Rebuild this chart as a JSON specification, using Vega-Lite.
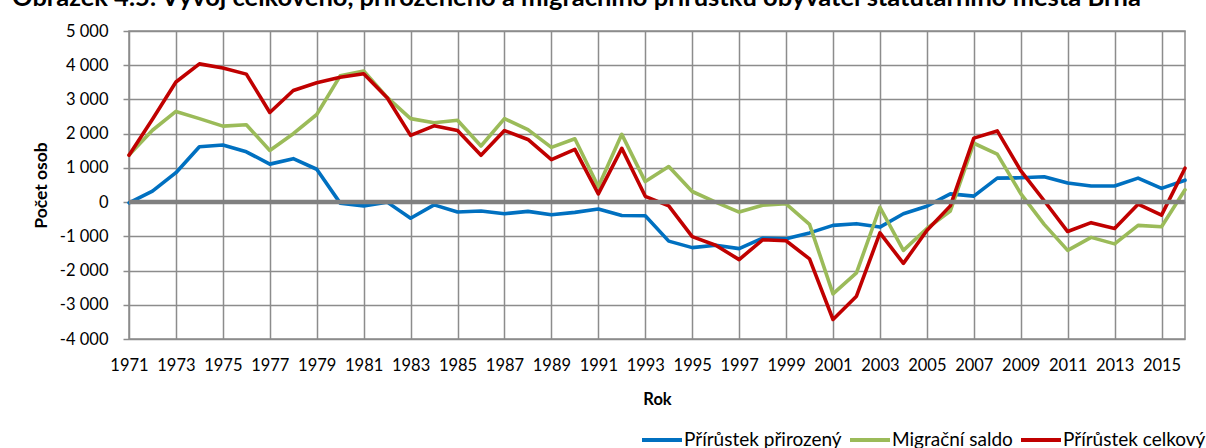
{
  "$schema": "https://vega.github.io/schema/vega-lite/v6.json",
  "width": 1056,
  "height": 308,
  "autosize": {"type": "none"},
  "padding": {"left": 129, "top": 31, "right": 21, "bottom": 109},
  "background": "#ffffff",
  "title": {
    "text": "Obrázek 4.5: Vývoj celkového, přirozeného a migračního přírůstku obyvatel statutárního města Brna",
    "anchor": "start",
    "frame": "group",
    "dx": -117,
    "offset": 12,
    "font": "Lato",
    "fontSize": 25.5,
    "fontWeight": "bold",
    "color": "#000000"
  },
  "data": {
    "values": [
      {"rok": 1971, "rada": "Přírůstek přirozený", "pocet": -20},
      {"rok": 1972, "rada": "Přírůstek přirozený", "pocet": 320},
      {"rok": 1973, "rada": "Přírůstek přirozený", "pocet": 860},
      {"rok": 1974, "rada": "Přírůstek přirozený", "pocet": 1620},
      {"rok": 1975, "rada": "Přírůstek přirozený", "pocet": 1670},
      {"rok": 1976, "rada": "Přírůstek přirozený", "pocet": 1470},
      {"rok": 1977, "rada": "Přírůstek přirozený", "pocet": 1110},
      {"rok": 1978, "rada": "Přírůstek přirozený", "pocet": 1270},
      {"rok": 1979, "rada": "Přírůstek přirozený", "pocet": 960},
      {"rok": 1980, "rada": "Přírůstek přirozený", "pocet": -30},
      {"rok": 1981, "rada": "Přírůstek přirozený", "pocet": -110},
      {"rok": 1982, "rada": "Přírůstek přirozený", "pocet": 0},
      {"rok": 1983, "rada": "Přírůstek přirozený", "pocet": -470},
      {"rok": 1984, "rada": "Přírůstek přirozený", "pocet": -80},
      {"rok": 1985, "rada": "Přírůstek přirozený", "pocet": -290},
      {"rok": 1986, "rada": "Přírůstek přirozený", "pocet": -260},
      {"rok": 1987, "rada": "Přírůstek přirozený", "pocet": -340},
      {"rok": 1988, "rada": "Přírůstek přirozený", "pocet": -270},
      {"rok": 1989, "rada": "Přírůstek přirozený", "pocet": -370},
      {"rok": 1990, "rada": "Přírůstek přirozený", "pocet": -300},
      {"rok": 1991, "rada": "Přírůstek přirozený", "pocet": -200},
      {"rok": 1992, "rada": "Přírůstek přirozený", "pocet": -390},
      {"rok": 1993, "rada": "Přírůstek přirozený", "pocet": -400},
      {"rok": 1994, "rada": "Přírůstek přirozený", "pocet": -1140},
      {"rok": 1995, "rada": "Přírůstek přirozený", "pocet": -1330},
      {"rok": 1996, "rada": "Přírůstek přirozený", "pocet": -1260},
      {"rok": 1997, "rada": "Přírůstek přirozený", "pocet": -1360},
      {"rok": 1998, "rada": "Přírůstek přirozený", "pocet": -1050},
      {"rok": 1999, "rada": "Přírůstek přirozený", "pocet": -1070},
      {"rok": 2000, "rada": "Přírůstek přirozený", "pocet": -900},
      {"rok": 2001, "rada": "Přírůstek přirozený", "pocet": -680},
      {"rok": 2002, "rada": "Přírůstek přirozený", "pocet": -630},
      {"rok": 2003, "rada": "Přírůstek přirozený", "pocet": -730},
      {"rok": 2004, "rada": "Přírůstek přirozený", "pocet": -340},
      {"rok": 2005, "rada": "Přírůstek přirozený", "pocet": -120},
      {"rok": 2006, "rada": "Přírůstek přirozený", "pocet": 240},
      {"rok": 2007, "rada": "Přírůstek přirozený", "pocet": 175},
      {"rok": 2008, "rada": "Přírůstek přirozený", "pocet": 700},
      {"rok": 2009, "rada": "Přírůstek přirozený", "pocet": 710},
      {"rok": 2010, "rada": "Přírůstek přirozený", "pocet": 740},
      {"rok": 2011, "rada": "Přírůstek přirozený", "pocet": 560},
      {"rok": 2012, "rada": "Přírůstek přirozený", "pocet": 470},
      {"rok": 2013, "rada": "Přírůstek přirozený", "pocet": 470},
      {"rok": 2014, "rada": "Přírůstek přirozený", "pocet": 700},
      {"rok": 2015, "rada": "Přírůstek přirozený", "pocet": 400},
      {"rok": 2016, "rada": "Přírůstek přirozený", "pocet": 640},
      {"rok": 1971, "rada": "Migrační saldo", "pocet": 1380},
      {"rok": 1972, "rada": "Migrační saldo", "pocet": 2100},
      {"rok": 1973, "rada": "Migrační saldo", "pocet": 2650},
      {"rok": 1974, "rada": "Migrační saldo", "pocet": 2440},
      {"rok": 1975, "rada": "Migrační saldo", "pocet": 2220},
      {"rok": 1976, "rada": "Migrační saldo", "pocet": 2260},
      {"rok": 1977, "rada": "Migrační saldo", "pocet": 1510},
      {"rok": 1978, "rada": "Migrační saldo", "pocet": 2000},
      {"rok": 1979, "rada": "Migrační saldo", "pocet": 2560},
      {"rok": 1980, "rada": "Migrační saldo", "pocet": 3690},
      {"rok": 1981, "rada": "Migrační saldo", "pocet": 3830},
      {"rok": 1982, "rada": "Migrační saldo", "pocet": 3060},
      {"rok": 1983, "rada": "Migrační saldo", "pocet": 2440},
      {"rok": 1984, "rada": "Migrační saldo", "pocet": 2320},
      {"rok": 1985, "rada": "Migrační saldo", "pocet": 2390},
      {"rok": 1986, "rada": "Migrační saldo", "pocet": 1640},
      {"rok": 1987, "rada": "Migrační saldo", "pocet": 2440},
      {"rok": 1988, "rada": "Migrační saldo", "pocet": 2120},
      {"rok": 1989, "rada": "Migrační saldo", "pocet": 1600},
      {"rok": 1990, "rada": "Migrační saldo", "pocet": 1850},
      {"rok": 1991, "rada": "Migrační saldo", "pocet": 450},
      {"rok": 1992, "rada": "Migrační saldo", "pocet": 1980},
      {"rok": 1993, "rada": "Migrační saldo", "pocet": 600},
      {"rok": 1994, "rada": "Migrační saldo", "pocet": 1040},
      {"rok": 1995, "rada": "Migrační saldo", "pocet": 310},
      {"rok": 1996, "rada": "Migrační saldo", "pocet": 0},
      {"rok": 1997, "rada": "Migrační saldo", "pocet": -290},
      {"rok": 1998, "rada": "Migrační saldo", "pocet": -90},
      {"rok": 1999, "rada": "Migrační saldo", "pocet": -50},
      {"rok": 2000, "rada": "Migrační saldo", "pocet": -650},
      {"rok": 2001, "rada": "Migrační saldo", "pocet": -2680},
      {"rok": 2002, "rada": "Migrační saldo", "pocet": -2070},
      {"rok": 2003, "rada": "Migrační saldo", "pocet": -150},
      {"rok": 2004, "rada": "Migrační saldo", "pocet": -1410},
      {"rok": 2005, "rada": "Migrační saldo", "pocet": -770},
      {"rok": 2006, "rada": "Migrační saldo", "pocet": -260},
      {"rok": 2007, "rada": "Migrační saldo", "pocet": 1720},
      {"rok": 2008, "rada": "Migrační saldo", "pocet": 1400},
      {"rok": 2009, "rada": "Migrační saldo", "pocet": 250},
      {"rok": 2010, "rada": "Migrační saldo", "pocet": -650},
      {"rok": 2011, "rada": "Migrační saldo", "pocet": -1410},
      {"rok": 2012, "rada": "Migrační saldo", "pocet": -1030},
      {"rok": 2013, "rada": "Migrační saldo", "pocet": -1220},
      {"rok": 2014, "rada": "Migrační saldo", "pocet": -680},
      {"rok": 2015, "rada": "Migrační saldo", "pocet": -720},
      {"rok": 2016, "rada": "Migrační saldo", "pocet": 360},
      {"rok": 1971, "rada": "Přírůstek celkový", "pocet": 1370},
      {"rok": 1972, "rada": "Přírůstek celkový", "pocet": 2420},
      {"rok": 1973, "rada": "Přírůstek celkový", "pocet": 3510},
      {"rok": 1974, "rada": "Přírůstek celkový", "pocet": 4040},
      {"rok": 1975, "rada": "Přírůstek celkový", "pocet": 3920},
      {"rok": 1976, "rada": "Přírůstek celkový", "pocet": 3740},
      {"rok": 1977, "rada": "Přírůstek celkový", "pocet": 2620},
      {"rok": 1978, "rada": "Přírůstek celkový", "pocet": 3260},
      {"rok": 1979, "rada": "Přírůstek celkový", "pocet": 3490},
      {"rok": 1980, "rada": "Přírůstek celkový", "pocet": 3650},
      {"rok": 1981, "rada": "Přírůstek celkový", "pocet": 3750},
      {"rok": 1982, "rada": "Přírůstek celkový", "pocet": 3050},
      {"rok": 1983, "rada": "Přírůstek celkový", "pocet": 1950},
      {"rok": 1984, "rada": "Přírůstek celkový", "pocet": 2230},
      {"rok": 1985, "rada": "Přírůstek celkový", "pocet": 2090},
      {"rok": 1986, "rada": "Přírůstek celkový", "pocet": 1370},
      {"rok": 1987, "rada": "Přírůstek celkový", "pocet": 2090},
      {"rok": 1988, "rada": "Přírůstek celkový", "pocet": 1830},
      {"rok": 1989, "rada": "Přírůstek celkový", "pocet": 1240},
      {"rok": 1990, "rada": "Přírůstek celkový", "pocet": 1540},
      {"rok": 1991, "rada": "Přírůstek celkový", "pocet": 240},
      {"rok": 1992, "rada": "Přírůstek celkový", "pocet": 1570},
      {"rok": 1993, "rada": "Přírůstek celkový", "pocet": 170},
      {"rok": 1994, "rada": "Přírůstek celkový", "pocet": -110},
      {"rok": 1995, "rada": "Přírůstek celkový", "pocet": -1010},
      {"rok": 1996, "rada": "Přírůstek celkový", "pocet": -1260},
      {"rok": 1997, "rada": "Přírůstek celkový", "pocet": -1680},
      {"rok": 1998, "rada": "Přírůstek celkový", "pocet": -1100},
      {"rok": 1999, "rada": "Přírůstek celkový", "pocet": -1130},
      {"rok": 2000, "rada": "Přírůstek celkový", "pocet": -1660},
      {"rok": 2001, "rada": "Přírůstek celkový", "pocet": -3430},
      {"rok": 2002, "rada": "Přírůstek celkový", "pocet": -2750},
      {"rok": 2003, "rada": "Přírůstek celkový", "pocet": -900},
      {"rok": 2004, "rada": "Přírůstek celkový", "pocet": -1790},
      {"rok": 2005, "rada": "Přírůstek celkový", "pocet": -830},
      {"rok": 2006, "rada": "Přírůstek celkový", "pocet": -110},
      {"rok": 2007, "rada": "Přírůstek celkový", "pocet": 1870},
      {"rok": 2008, "rada": "Přírůstek celkový", "pocet": 2080},
      {"rok": 2009, "rada": "Přírůstek celkový", "pocet": 920},
      {"rok": 2010, "rada": "Přírůstek celkový", "pocet": 40},
      {"rok": 2011, "rada": "Přírůstek celkový", "pocet": -860},
      {"rok": 2012, "rada": "Přírůstek celkový", "pocet": -600},
      {"rok": 2013, "rada": "Přírůstek celkový", "pocet": -770},
      {"rok": 2014, "rada": "Přírůstek celkový", "pocet": -60},
      {"rok": 2015, "rada": "Přírůstek celkový", "pocet": -380},
      {"rok": 2016, "rada": "Přírůstek celkový", "pocet": 990}
    ]
  },
  "layer": [
    {
      "mark": {"type": "line", "strokeWidth": 3.6, "strokeJoin": "round", "strokeCap": "round"},
      "encoding": {
        "x": {
          "field": "rok",
          "type": "quantitative",
          "scale": {"domain": [1971, 2016], "nice": false, "zero": false},
          "axis": {
            "values": [1971, 1973, 1975, 1977, 1979, 1981, 1983, 1985, 1987, 1989, 1991, 1993, 1995, 1997, 1999, 2001, 2003, 2005, 2007, 2009, 2011, 2013, 2015],
            "format": "d",
            "title": "Rok",
            "ticks": false,
            "tickSize": 0,
            "domain": false,
            "labelOverlap": false,
            "labelBound": false,
            "labelFlush": false,
            "labelPadding": 18,
            "titlePadding": 18
          }
        },
        "y": {
          "field": "pocet",
          "type": "quantitative",
          "scale": {"domain": [-4000, 5000], "nice": false, "zero": false},
          "axis": {
            "values": [-4000, -3000, -2000, -1000, 0, 1000, 2000, 3000, 4000, 5000],
            "labelExpr": "(datum.value < 0 ? '-' : '') + replace(format(abs(datum.value), ','), ',', ' ')",
            "title": "Počet osob",
            "titleFontSize": 17.5,
            "domain": false,
            "ticks": true,
            "tickSize": 6,
            "labelOverlap": false,
            "labelBound": false,
            "labelFlush": false,
            "labelPadding": 15,
            "titlePadding": 9
          }
        },
        "color": {
          "field": "rada",
          "type": "nominal",
          "sort": null,
          "scale": {
            "domain": ["Přírůstek přirozený", "Migrační saldo", "Přírůstek celkový"],
            "range": ["#0070C0", "#9BBB59", "#C00000"]
          },
          "legend": {
            "title": null,
            "orient": "none",
            "direction": "horizontal",
            "legendX": 511,
            "legendY": 387,
            "symbolType": "stroke",
            "symbolSize": 1600,
            "symbolStrokeWidth": 4,
            "labelFont": "Lato",
            "labelFontSize": 19,
            "labelColor": "#000000",
            "labelOffset": 0,
            "labelLimit": 400,
            "columnPadding": 0
          }
        }
      }
    },
    {
      "data": {"values": [{}]},
      "mark": {"type": "rule", "color": "#808080", "strokeWidth": 4.5},
      "encoding": {
        "y": {
          "datum": 0,
          "type": "quantitative",
          "axis": {
            "values": [-4000, -3000, -2000, -1000, 0, 1000, 2000, 3000, 4000, 5000],
            "labelExpr": "(datum.value < 0 ? '-' : '') + replace(format(abs(datum.value), ','), ',', ' ')",
            "title": "Počet osob",
            "titleFontSize": 17.5,
            "domain": false,
            "ticks": true,
            "tickSize": 6,
            "labelOverlap": false,
            "labelBound": false,
            "labelFlush": false,
            "labelPadding": 15,
            "titlePadding": 9
          }
        }
      }
    }
  ],
  "config": {
    "font": "Lato",
    "view": {"stroke": "#8c8c8c", "strokeWidth": 1.5},
    "axis": {
      "grid": true,
      "gridColor": "#8c8c8c",
      "gridWidth": 1.5,
      "gridOpacity": 1,
      "tickColor": "#8c8c8c",
      "tickWidth": 1.5,
      "labelOverlap": false,
      "labelFont": "Lato",
      "labelFontSize": 16.5,
      "labelColor": "#000000",
      "titleFont": "Lato",
      "titleFontSize": 16.5,
      "titleFontWeight": "bold",
      "titleColor": "#000000"
    },
    "axisY": {"labelOverlap": false}
  }
}
